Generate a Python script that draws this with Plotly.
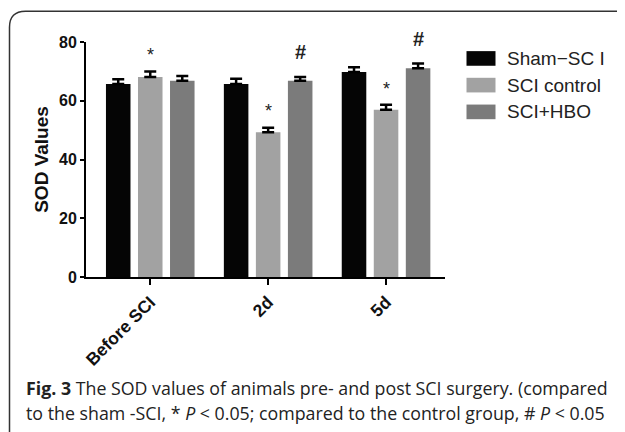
import plotly.graph_objects as go

# ---------------- data ----------------
categories = ["Before SCI", "2d", "5d"]
series_names = ["Sham\u2212SC I", "SCI control", "SCI+HBO"]
sham_values = [65.7, 65.7, 69.8]
control_values = [68.1, 49.3, 56.9]
hbo_values = [66.8, 66.8, 71.1]
sham_err = [1.6, 1.8, 1.6]
control_err = [1.9, 1.5, 1.7]
hbo_err = [1.6, 1.3, 1.6]
control_marks = ["*", "*", "*"]
hbo_marks = ["", "#", "#"]
control_mark_y = [76.8, 58.0, 65.4]
hbo_mark_y = [None, 76.6, 81.0]
y_ticks = [0, 20, 40, 60, 80]
y_max = 80
y_title = "SOD Values"
caption_1 = "<b>Fig. 3</b> The SOD values of animals pre- and post SCI surgery. (compared"
caption_2 = "to the sham -SCI, * <i>P</i> &lt; 0.05; compared to the control group, # <i>P</i> &lt; 0.05"

colors = ["#050505", "#a2a2a2", "#7b7b7b"]
OFF = 8  # page body margin
W, H = 625 - OFF, 432 - OFF
# plot area in screenshot pixels
L, R, T, B = 86, 445, 42.3, 276.7
BARGAP = 0.185
FONT = "Liberation Sans, Arial, sans-serif"

def px(x):
    return (x - L) / (R - L)

def py(y):
    return (B - y) / (B - T)

fig = go.Figure()
for name, vals, errs, col in zip(series_names, [sham_values, control_values, hbo_values],
                                 [sham_err, control_err, hbo_err], colors):
    fig.add_trace(go.Bar(
        x=categories, y=vals, name=name, marker=dict(color=col, line=dict(width=0)),
        showlegend=False,
        error_y=dict(type="data", array=errs, arrayminus=[0] * len(errs), symmetric=False,
                     color="#000000", thickness=2.5, width=6),
    ))

# significance marks (x in category units, y in the y-axis scale expressed as domain fraction)
slot = (1 - BARGAP) / 3
for i, (m, yv) in enumerate(zip(control_marks, control_mark_y)):
    if m:
        fig.add_annotation(x=i, y=yv / y_max, xref="x", yref="paper", text=m, showarrow=False,
                           font=dict(family=FONT, size=18, color="#222"), yanchor="middle",
                           yshift=-4)
for i, (m, yv) in enumerate(zip(hbo_marks, hbo_mark_y)):
    if m:
        fig.add_annotation(x=i + slot, y=yv / y_max, xref="x", yref="paper", text=f"<b>{m}</b>",
                           showarrow=False,
                           font=dict(family=FONT, size=20, color="#222"), yanchor="middle")

# manual legend
leg_y = [58.7, 85.3, 112.0]
for name, col, yc in zip(series_names, colors, leg_y):
    fig.add_shape(type="rect", xref="paper", yref="paper",
                  x0=px(466.5), x1=px(495.5), y0=py(yc - 7.3), y1=py(yc + 7.3),
                  fillcolor=col, line=dict(width=0))
    fig.add_annotation(xref="paper", yref="paper", x=px(505), y=py(yc), text=name,
                       showarrow=False, xanchor="left", yanchor="middle",
                       font=dict(family=FONT, size=19, color="#222"))

# rounded frame
r = 16
x0, y0 = 9.5, 11.7
x_end, y_end = 660, 470
path = (f"M {px(x0)} {py(y_end)} L {px(x0)} {py(y0 + r)} "
        f"Q {px(x0)} {py(y0)} {px(x0 + r)} {py(y0)} L {px(x_end)} {py(y0)}")
fig.add_shape(type="path", xref="paper", yref="paper", path=path,
              line=dict(color="#333333", width=1.5))

# caption
cap_font = dict(family="Open Sans, sans-serif", size=17.8, color="#222")
fig.add_annotation(xref="paper", yref="paper", x=px(24), y=py(387), text=caption_1,
                   showarrow=False, xanchor="left", yanchor="middle", font=cap_font)
fig.add_annotation(xref="paper", yref="paper", x=px(24), y=py(412), text=caption_2,
                   showarrow=False, xanchor="left", yanchor="middle", font=cap_font)

fig.update_layout(
    width=W, height=H,
    margin=dict(l=L - OFF, r=W - (R - OFF), t=T - OFF, b=H - (B - OFF), pad=0),
    paper_bgcolor="white", plot_bgcolor="white",
    barmode="group", bargap=BARGAP, bargroupgap=0.234,
    showlegend=False,
    xaxis=dict(type="category", range=[-0.545, 2.5], showline=True, linecolor="black",
               linewidth=2, ticks="outside", ticklen=6, tickwidth=2, tickcolor="black",
               tickangle=-45, showgrid=False, zeroline=False,
               tickfont=dict(family=FONT, size=17.5, color="#111", weight="bold"),
               automargin=False),
    yaxis=dict(range=[0, y_max], tickvals=y_ticks, showline=True, linecolor="black",
               linewidth=2, ticks="outside", ticklen=4, tickwidth=2, tickcolor="black",
               showgrid=False, zeroline=False,
               tickfont=dict(family=FONT, size=16, color="#111", weight="bold"),
               title=dict(text=f"<b>{y_title}</b>", standoff=5,
                          font=dict(family=FONT, size=19, color="#111")),
               automargin=False),
)
fig.write_html("out.html")
